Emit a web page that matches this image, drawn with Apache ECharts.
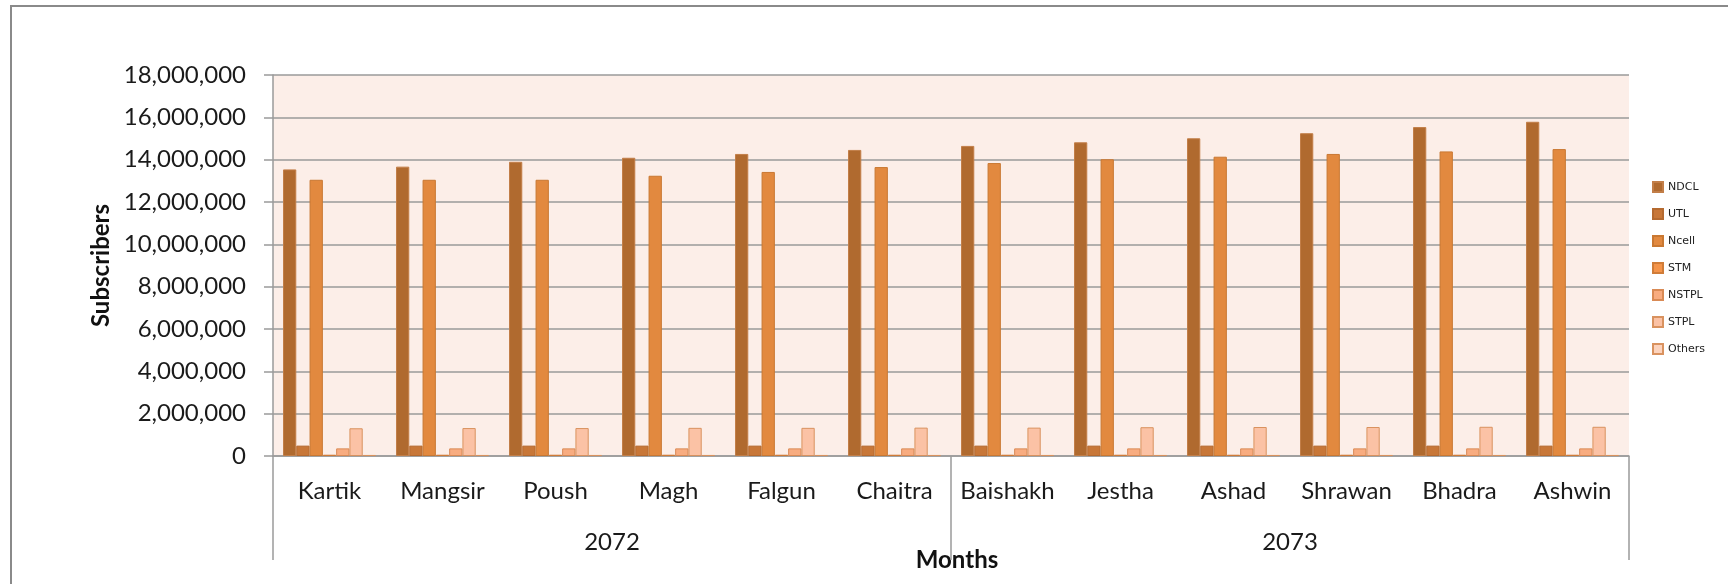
<!DOCTYPE html>
<html>
<head>
<meta charset="utf-8">
<script src="https://cdn.jsdelivr.net/npm/echarts@6/dist/echarts.min.js"></script>
<style>
html,body{margin:0;padding:0;background:#fff;}
#c{width:1728px;height:584px;}
</style>
</head>
<body>
<div id="c"></div>
<script>
const months = ['Kartik','Mangsir','Poush','Magh','Falgun','Chaitra','Baishakh','Jestha','Ashad','Shrawan','Bhadra','Ashwin'];
const years = ['2072','2073'];
const yTicks = [0, 18000000, 2000000];

const NDCL   = [13540000,13670000,13900000,14090000,14270000,14460000,14650000,14820000,15010000,15250000,15540000,15790000];
const UTL    = [490000,490000,490000,490000,490000,490000,490000,490000,490000,490000,490000,490000];
const Ncell  = [13050000,13050000,13050000,13240000,13420000,13650000,13840000,14020000,14140000,14270000,14390000,14500000];
const STM    = [60000,60000,60000,60000,60000,60000,60000,60000,60000,60000,60000,60000];
const NSTPL  = [360000,360000,360000,360000,360000,360000,360000,360000,360000,360000,360000,360000];
const STPL   = [1310000,1320000,1320000,1330000,1330000,1340000,1340000,1360000,1370000,1370000,1380000,1380000];
const Others = [50000,50000,50000,50000,50000,50000,50000,50000,50000,50000,50000,50000];

const seriesDefs = [
  ['NDCL', NDCL, '#B06A2F', '#C27E48'],
  ['UTL', UTL, '#C87738', '#B56A30'],
  ['Ncell', Ncell, '#E2893F', '#C97832'],
  ['STM', STM, '#F4944A', '#D07C38'],
  ['NSTPL', NSTPL, '#F8AC80', '#D98A55'],
  ['STPL', STPL, '#FBC2A5', '#D9925F'],
  ['Others', Others, '#FCD3BD', '#D9925F']
];

const FONT = 'Lato';
const chart = echarts.init(document.getElementById('c'), null, {renderer:'canvas'});
chart.setOption({
  animation: false,
  backgroundColor: '#ffffff',
  textStyle: {fontFamily: FONT},
  graphic: [{
    type: 'rect', silent: true, z: 100,
    shape: {x: 11, y: 6, width: 1800, height: 700},
    style: {fill: 'none', stroke: '#8a8a8a', lineWidth: 2}
  }],
  legend: {
    orient: 'vertical',
    left: 1647, top: 176,
    itemWidth: 10, itemHeight: 10, itemGap: 15,
    icon: 'rect',
    textStyle: {fontFamily: 'DejaVu Sans', fontSize: 11, color: '#222'},
    data: seriesDefs.map(s => s[0])
  },
  grid: {
    left: 273, right: 99, top: 75, bottom: 128,
    show: true, backgroundColor: '#FCEEE8', borderWidth: 0,
    containLabel: false
  },
  xAxis: [{
    type: 'category',
    data: months,
    position: 'bottom',
    axisLine: {show: true, lineStyle: {color: '#9a9a9a', width: 1.5}},
    axisTick: {show: false},
    axisLabel: {margin: 23, fontSize: 24, color: '#1a1a1a', fontFamily: FONT, interval: 0},
    name: 'Months',
    nameLocation: 'middle',
    nameGap: 92,
    nameTextStyle: {fontSize: 24, fontWeight: 'bold', color: '#111', fontFamily: FONT, padding: [0,0,0,12]}
  },{
    type: 'category',
    data: years,
    position: 'bottom',
    axisLine: {show: false},
    axisTick: {show: true, length: 104, lineStyle: {color: '#9a9a9a', width: 1.5}},
    axisLabel: {margin: 74, fontSize: 24, color: '#1a1a1a', fontFamily: FONT},
    splitLine: {show: false}
  }],
  yAxis: {
    type: 'value',
    min: yTicks[0], max: yTicks[1], interval: yTicks[2],
    axisLine: {show: true, lineStyle: {color: '#9a9a9a', width: 1.5}},
    axisTick: {show: true, inside: false, length: 9, lineStyle: {color: '#9a9a9a', width: 1.5}},
    splitLine: {show: true, lineStyle: {color: '#9a9a9a', width: 1.5}},
    axisLabel: {
      margin: 27, fontSize: 24, color: '#1a1a1a', fontFamily: FONT,
      formatter: v => v.toLocaleString('en-US')
    },
    name: 'Subscribers',
    nameLocation: 'middle',
    nameGap: 156,
    nameRotate: 90,
    nameTextStyle: {fontSize: 24, fontWeight: 'bold', color: '#111', fontFamily: FONT}
  },
  series: seriesDefs.map(s => ({
    name: s[0],
    type: 'bar',
    xAxisIndex: 0,
    data: s[1],
    barGap: '0%',
    barCategoryGap: '17.7%',
    itemStyle: {color: s[2], borderColor: s[3], borderWidth: 1}
  }))
});
</script>
</body>
</html>
